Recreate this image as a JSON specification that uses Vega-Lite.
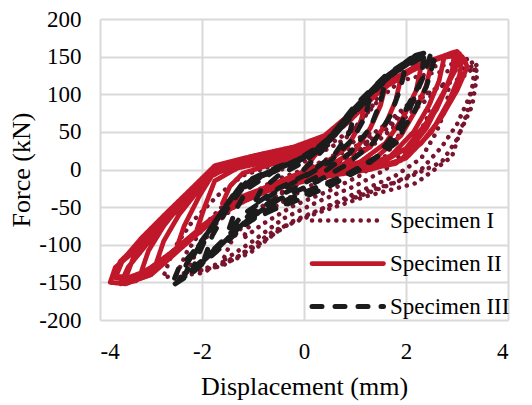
{
  "$schema": "https://vega.github.io/schema/vega-lite/v6.json",
  "autosize": {"type": "none"},
  "width": 408,
  "height": 301,
  "padding": {"left": 100, "top": 19, "right": 24, "bottom": 85},
  "background": "white",
  "config": {
    "font": "Liberation Serif",
    "view": {"stroke": null},
    "axis": {
      "labelFont": "Liberation Serif",
      "labelFontSize": 23,
      "labelColor": "#000000",
      "titleFont": "Liberation Serif",
      "titleFontSize": 26,
      "titleFontWeight": "normal",
      "titleColor": "#000000",
      "grid": true,
      "gridColor": "#d9d9d9",
      "gridWidth": 2,
      "ticks": false,
      "domain": false
    },
    "legend": {
      "labelFont": "Liberation Serif",
      "labelFontSize": 23,
      "labelColor": "#000000"
    }
  },
  "data": {
    "values": [
      {"s":"Specimen I","i":1,"x":0,"y":0},
      {"s":"Specimen I","i":2,"x":0.5,"y":15},
      {"s":"Specimen I","i":3,"x":1.0,"y":38},
      {"s":"Specimen I","i":4,"x":1.3,"y":52},
      {"s":"Specimen I","i":5,"x":1.2,"y":28},
      {"s":"Specimen I","i":6,"x":0.8,"y":2},
      {"s":"Specimen I","i":7,"x":0.3,"y":-15},
      {"s":"Specimen I","i":8,"x":-0.3,"y":-38},
      {"s":"Specimen I","i":9,"x":-0.7,"y":-55},
      {"s":"Specimen I","i":10,"x":-0.5,"y":-35},
      {"s":"Specimen I","i":11,"x":-0.1,"y":-15},
      {"s":"Specimen I","i":12,"x":0.5,"y":5},
      {"s":"Specimen I","i":13,"x":1.1,"y":28},
      {"s":"Specimen I","i":14,"x":1.6,"y":55},
      {"s":"Specimen I","i":15,"x":2.0,"y":80},
      {"s":"Specimen I","i":16,"x":1.9,"y":50},
      {"s":"Specimen I","i":17,"x":1.6,"y":18},
      {"s":"Specimen I","i":18,"x":1.1,"y":-8},
      {"s":"Specimen I","i":19,"x":0.5,"y":-28},
      {"s":"Specimen I","i":20,"x":-0.2,"y":-48},
      {"s":"Specimen I","i":21,"x":-0.8,"y":-72},
      {"s":"Specimen I","i":22,"x":-1.2,"y":-92},
      {"s":"Specimen I","i":23,"x":-1.0,"y":-65},
      {"s":"Specimen I","i":24,"x":-0.6,"y":-38},
      {"s":"Specimen I","i":25,"x":0,"y":-15},
      {"s":"Specimen I","i":26,"x":0.7,"y":8},
      {"s":"Specimen I","i":27,"x":1.4,"y":35},
      {"s":"Specimen I","i":28,"x":2.0,"y":70},
      {"s":"Specimen I","i":29,"x":2.5,"y":98},
      {"s":"Specimen I","i":30,"x":2.4,"y":65},
      {"s":"Specimen I","i":31,"x":2.1,"y":32},
      {"s":"Specimen I","i":32,"x":1.6,"y":0},
      {"s":"Specimen I","i":33,"x":1.0,"y":-22},
      {"s":"Specimen I","i":34,"x":0.3,"y":-42},
      {"s":"Specimen I","i":35,"x":-0.4,"y":-65},
      {"s":"Specimen I","i":36,"x":-1.0,"y":-95},
      {"s":"Specimen I","i":37,"x":-1.6,"y":-122},
      {"s":"Specimen I","i":38,"x":-1.4,"y":-92},
      {"s":"Specimen I","i":39,"x":-1.0,"y":-58},
      {"s":"Specimen I","i":40,"x":-0.4,"y":-28},
      {"s":"Specimen I","i":41,"x":0.3,"y":-5},
      {"s":"Specimen I","i":42,"x":1.0,"y":22},
      {"s":"Specimen I","i":43,"x":1.7,"y":58},
      {"s":"Specimen I","i":44,"x":2.3,"y":95},
      {"s":"Specimen I","i":45,"x":2.85,"y":118},
      {"s":"Specimen I","i":46,"x":2.8,"y":85},
      {"s":"Specimen I","i":47,"x":2.6,"y":50},
      {"s":"Specimen I","i":48,"x":2.3,"y":15},
      {"s":"Specimen I","i":49,"x":1.8,"y":-8},
      {"s":"Specimen I","i":50,"x":1.0,"y":-32},
      {"s":"Specimen I","i":51,"x":0.2,"y":-57},
      {"s":"Specimen I","i":52,"x":-0.6,"y":-82},
      {"s":"Specimen I","i":53,"x":-1.3,"y":-116},
      {"s":"Specimen I","i":54,"x":-2.0,"y":-133},
      {"s":"Specimen I","i":55,"x":-2.5,"y":-140},
      {"s":"Specimen I","i":56,"x":-2.3,"y":-110},
      {"s":"Specimen I","i":57,"x":-1.9,"y":-70},
      {"s":"Specimen I","i":58,"x":-1.4,"y":-35},
      {"s":"Specimen I","i":59,"x":-0.8,"y":-8},
      {"s":"Specimen I","i":60,"x":0,"y":10},
      {"s":"Specimen I","i":61,"x":0.8,"y":40},
      {"s":"Specimen I","i":62,"x":1.3,"y":80},
      {"s":"Specimen I","i":63,"x":1.7,"y":125},
      {"s":"Specimen I","i":64,"x":2.3,"y":135},
      {"s":"Specimen I","i":65,"x":2.9,"y":140},
      {"s":"Specimen I","i":66,"x":3.25,"y":148},
      {"s":"Specimen I","i":67,"x":3.4,"y":128},
      {"s":"Specimen I","i":68,"x":3.3,"y":85},
      {"s":"Specimen I","i":69,"x":3.05,"y":48},
      {"s":"Specimen I","i":70,"x":2.9,"y":17},
      {"s":"Specimen I","i":71,"x":2.2,"y":-18},
      {"s":"Specimen I","i":72,"x":1.2,"y":-36},
      {"s":"Specimen I","i":73,"x":0.25,"y":-58},
      {"s":"Specimen I","i":74,"x":-0.4,"y":-76},
      {"s":"Specimen I","i":75,"x":-1.06,"y":-111},
      {"s":"Specimen I","i":76,"x":-2.04,"y":-138},
      {"s":"Specimen I","i":77,"x":-2.76,"y":-143},
      {"s":"Specimen I","i":78,"x":-2.55,"y":-105},
      {"s":"Specimen I","i":79,"x":-2.2,"y":-70},
      {"s":"Specimen I","i":80,"x":-1.7,"y":-35},
      {"s":"Specimen I","i":81,"x":-1.2,"y":-8},
      {"s":"Specimen I","i":82,"x":-0.5,"y":8},
      {"s":"Specimen I","i":83,"x":0.3,"y":25},
      {"s":"Specimen I","i":84,"x":1.0,"y":55},
      {"s":"Specimen I","i":85,"x":1.5,"y":95},
      {"s":"Specimen I","i":86,"x":1.9,"y":118},
      {"s":"Specimen I","i":87,"x":2.5,"y":128},
      {"s":"Specimen I","i":88,"x":3.0,"y":132},
      {"s":"Specimen I","i":89,"x":3.35,"y":138},
      {"s":"Specimen I","i":90,"x":3.3,"y":110},
      {"s":"Specimen I","i":91,"x":3.2,"y":75},
      {"s":"Specimen I","i":92,"x":3.0,"y":40},
      {"s":"Specimen I","i":93,"x":2.7,"y":10},
      {"s":"Specimen I","i":94,"x":2.0,"y":-12},
      {"s":"Specimen I","i":95,"x":1.3,"y":-28},
      {"s":"Specimen I","i":96,"x":0.5,"y":-48},
      {"s":"Specimen I","i":97,"x":-0.2,"y":-68},
      {"s":"Specimen I","i":98,"x":-0.9,"y":-100},
      {"s":"Specimen I","i":99,"x":-1.6,"y":-128},
      {"s":"Specimen I","i":100,"x":-2.3,"y":-138},
      {"s":"Specimen I","i":101,"x":-2.1,"y":-108},
      {"s":"Specimen I","i":102,"x":-1.7,"y":-70},
      {"s":"Specimen I","i":103,"x":-1.2,"y":-40},
      {"s":"Specimen I","i":104,"x":-0.6,"y":-15},
      {"s":"Specimen I","i":105,"x":0.2,"y":5},
      {"s":"Specimen I","i":106,"x":1.0,"y":30},
      {"s":"Specimen I","i":107,"x":1.6,"y":60},
      {"s":"Specimen I","i":108,"x":2.1,"y":90},
      {"s":"Specimen I","i":109,"x":2.6,"y":108},
      {"s":"Specimen I","i":110,"x":3.1,"y":122},
      {"s":"Specimen I","i":111,"x":3.4,"y":140},
      {"s":"Specimen I","i":112,"x":3.35,"y":118},
      {"s":"Specimen I","i":113,"x":3.2,"y":90},
      {"s":"Specimen I","i":114,"x":3.0,"y":60},
      {"s":"Specimen I","i":115,"x":2.7,"y":30},
      {"s":"Specimen I","i":116,"x":2.3,"y":0},
      {"s":"Specimen I","i":117,"x":1.7,"y":-20},
      {"s":"Specimen I","i":118,"x":0.9,"y":-40},

      {"s":"Specimen II","i":1,"x":0,"y":0},
      {"s":"Specimen II","i":2,"x":0.4,"y":35},
      {"s":"Specimen II","i":3,"x":0.8,"y":62},
      {"s":"Specimen II","i":4,"x":1.2,"y":88},
      {"s":"Specimen II","i":5,"x":1.1,"y":60},
      {"s":"Specimen II","i":6,"x":0.85,"y":30},
      {"s":"Specimen II","i":7,"x":0.4,"y":8},
      {"s":"Specimen II","i":8,"x":-0.2,"y":-8},
      {"s":"Specimen II","i":9,"x":-0.8,"y":-25},
      {"s":"Specimen II","i":10,"x":-1.3,"y":-38},
      {"s":"Specimen II","i":11,"x":-1.6,"y":-45},
      {"s":"Specimen II","i":12,"x":-1.45,"y":-22},
      {"s":"Specimen II","i":13,"x":-1.2,"y":-5},
      {"s":"Specimen II","i":14,"x":-0.6,"y":8},
      {"s":"Specimen II","i":15,"x":0,"y":20},
      {"s":"Specimen II","i":16,"x":0.4,"y":36},
      {"s":"Specimen II","i":17,"x":0.9,"y":65},
      {"s":"Specimen II","i":18,"x":1.3,"y":92},
      {"s":"Specimen II","i":19,"x":1.6,"y":112},
      {"s":"Specimen II","i":20,"x":1.5,"y":85},
      {"s":"Specimen II","i":21,"x":1.3,"y":55},
      {"s":"Specimen II","i":22,"x":1.0,"y":25},
      {"s":"Specimen II","i":23,"x":0.5,"y":5},
      {"s":"Specimen II","i":24,"x":-0.2,"y":-10},
      {"s":"Specimen II","i":25,"x":-0.9,"y":-28},
      {"s":"Specimen II","i":26,"x":-1.5,"y":-50},
      {"s":"Specimen II","i":27,"x":-2.1,"y":-80},
      {"s":"Specimen II","i":28,"x":-1.95,"y":-50},
      {"s":"Specimen II","i":29,"x":-1.75,"y":-15},
      {"s":"Specimen II","i":30,"x":-1.3,"y":2},
      {"s":"Specimen II","i":31,"x":-0.6,"y":12},
      {"s":"Specimen II","i":32,"x":0,"y":24},
      {"s":"Specimen II","i":33,"x":0.4,"y":38},
      {"s":"Specimen II","i":34,"x":0.9,"y":70},
      {"s":"Specimen II","i":35,"x":1.4,"y":102},
      {"s":"Specimen II","i":36,"x":1.9,"y":122},
      {"s":"Specimen II","i":37,"x":1.8,"y":92},
      {"s":"Specimen II","i":38,"x":1.6,"y":60},
      {"s":"Specimen II","i":39,"x":1.3,"y":30},
      {"s":"Specimen II","i":40,"x":0.8,"y":8},
      {"s":"Specimen II","i":41,"x":0.1,"y":-8},
      {"s":"Specimen II","i":42,"x":-0.7,"y":-24},
      {"s":"Specimen II","i":43,"x":-1.4,"y":-48},
      {"s":"Specimen II","i":44,"x":-2.0,"y":-78},
      {"s":"Specimen II","i":45,"x":-2.5,"y":-105},
      {"s":"Specimen II","i":46,"x":-2.35,"y":-75},
      {"s":"Specimen II","i":47,"x":-2.05,"y":-35},
      {"s":"Specimen II","i":48,"x":-1.75,"y":-2},
      {"s":"Specimen II","i":49,"x":-1.1,"y":10},
      {"s":"Specimen II","i":50,"x":-0.3,"y":22},
      {"s":"Specimen II","i":51,"x":0.3,"y":37},
      {"s":"Specimen II","i":52,"x":0.8,"y":62},
      {"s":"Specimen II","i":53,"x":1.4,"y":100},
      {"s":"Specimen II","i":54,"x":1.9,"y":125},
      {"s":"Specimen II","i":55,"x":2.3,"y":138},
      {"s":"Specimen II","i":56,"x":2.2,"y":105},
      {"s":"Specimen II","i":57,"x":1.95,"y":70},
      {"s":"Specimen II","i":58,"x":1.6,"y":35},
      {"s":"Specimen II","i":59,"x":1.1,"y":10},
      {"s":"Specimen II","i":60,"x":0.4,"y":-5},
      {"s":"Specimen II","i":61,"x":-0.4,"y":-20},
      {"s":"Specimen II","i":62,"x":-1.2,"y":-42},
      {"s":"Specimen II","i":63,"x":-1.9,"y":-72},
      {"s":"Specimen II","i":64,"x":-2.4,"y":-102},
      {"s":"Specimen II","i":65,"x":-2.9,"y":-125},
      {"s":"Specimen II","i":66,"x":-2.75,"y":-95},
      {"s":"Specimen II","i":67,"x":-2.45,"y":-60},
      {"s":"Specimen II","i":68,"x":-2.1,"y":-30},
      {"s":"Specimen II","i":69,"x":-1.75,"y":0},
      {"s":"Specimen II","i":70,"x":-1.0,"y":12},
      {"s":"Specimen II","i":71,"x":-0.2,"y":25},
      {"s":"Specimen II","i":72,"x":0.3,"y":39},
      {"s":"Specimen II","i":73,"x":0.8,"y":65},
      {"s":"Specimen II","i":74,"x":1.4,"y":103},
      {"s":"Specimen II","i":75,"x":2.0,"y":130},
      {"s":"Specimen II","i":76,"x":2.5,"y":142},
      {"s":"Specimen II","i":77,"x":2.4,"y":112},
      {"s":"Specimen II","i":78,"x":2.2,"y":80},
      {"s":"Specimen II","i":79,"x":1.9,"y":45},
      {"s":"Specimen II","i":80,"x":1.4,"y":15},
      {"s":"Specimen II","i":81,"x":0.7,"y":-2},
      {"s":"Specimen II","i":82,"x":0,"y":-14},
      {"s":"Specimen II","i":83,"x":-0.8,"y":-28},
      {"s":"Specimen II","i":84,"x":-1.6,"y":-55},
      {"s":"Specimen II","i":85,"x":-2.2,"y":-88},
      {"s":"Specimen II","i":86,"x":-2.7,"y":-118},
      {"s":"Specimen II","i":87,"x":-3.2,"y":-138},
      {"s":"Specimen II","i":88,"x":-3.05,"y":-108},
      {"s":"Specimen II","i":89,"x":-2.75,"y":-75},
      {"s":"Specimen II","i":90,"x":-2.4,"y":-45},
      {"s":"Specimen II","i":91,"x":-2.0,"y":-20},
      {"s":"Specimen II","i":92,"x":-1.7,"y":2},
      {"s":"Specimen II","i":93,"x":-0.9,"y":14},
      {"s":"Specimen II","i":94,"x":0,"y":28},
      {"s":"Specimen II","i":95,"x":0.4,"y":42},
      {"s":"Specimen II","i":96,"x":1.0,"y":75},
      {"s":"Specimen II","i":97,"x":1.6,"y":112},
      {"s":"Specimen II","i":98,"x":2.2,"y":136},
      {"s":"Specimen II","i":99,"x":2.75,"y":150},
      {"s":"Specimen II","i":100,"x":2.65,"y":118},
      {"s":"Specimen II","i":101,"x":2.45,"y":85},
      {"s":"Specimen II","i":102,"x":2.15,"y":50},
      {"s":"Specimen II","i":103,"x":1.7,"y":18},
      {"s":"Specimen II","i":104,"x":1.0,"y":0},
      {"s":"Specimen II","i":105,"x":0.3,"y":-10},
      {"s":"Specimen II","i":106,"x":-0.5,"y":-22},
      {"s":"Specimen II","i":107,"x":-1.3,"y":-45},
      {"s":"Specimen II","i":108,"x":-2.0,"y":-76},
      {"s":"Specimen II","i":109,"x":-2.6,"y":-110},
      {"s":"Specimen II","i":110,"x":-3.1,"y":-135},
      {"s":"Specimen II","i":111,"x":-3.5,"y":-145},
      {"s":"Specimen II","i":112,"x":-3.35,"y":-118},
      {"s":"Specimen II","i":113,"x":-3.0,"y":-85},
      {"s":"Specimen II","i":114,"x":-2.6,"y":-55},
      {"s":"Specimen II","i":115,"x":-2.2,"y":-32},
      {"s":"Specimen II","i":116,"x":-1.8,"y":-2},
      {"s":"Specimen II","i":117,"x":-1.0,"y":12},
      {"s":"Specimen II","i":118,"x":-0.1,"y":27},
      {"s":"Specimen II","i":119,"x":0.4,"y":42},
      {"s":"Specimen II","i":120,"x":1.0,"y":78},
      {"s":"Specimen II","i":121,"x":1.7,"y":115},
      {"s":"Specimen II","i":122,"x":2.4,"y":142},
      {"s":"Specimen II","i":123,"x":2.95,"y":156},
      {"s":"Specimen II","i":124,"x":2.9,"y":128},
      {"s":"Specimen II","i":125,"x":2.7,"y":95},
      {"s":"Specimen II","i":126,"x":2.4,"y":55},
      {"s":"Specimen II","i":127,"x":1.9,"y":12},
      {"s":"Specimen II","i":128,"x":1.3,"y":0},
      {"s":"Specimen II","i":129,"x":0.5,"y":-8},
      {"s":"Specimen II","i":130,"x":-0.5,"y":-22},
      {"s":"Specimen II","i":131,"x":-1.2,"y":-40},
      {"s":"Specimen II","i":132,"x":-2.0,"y":-75},
      {"s":"Specimen II","i":133,"x":-2.5,"y":-110},
      {"s":"Specimen II","i":134,"x":-3.0,"y":-140},
      {"s":"Specimen II","i":135,"x":-3.5,"y":-152},
      {"s":"Specimen II","i":136,"x":-3.8,"y":-150},
      {"s":"Specimen II","i":137,"x":-3.7,"y":-130},
      {"s":"Specimen II","i":138,"x":-3.4,"y":-113},
      {"s":"Specimen II","i":139,"x":-3.0,"y":-88},
      {"s":"Specimen II","i":140,"x":-2.6,"y":-60},
      {"s":"Specimen II","i":141,"x":-2.0,"y":-25},
      {"s":"Specimen II","i":142,"x":-1.7,"y":2},
      {"s":"Specimen II","i":143,"x":-1.0,"y":14},
      {"s":"Specimen II","i":144,"x":0,"y":30},
      {"s":"Specimen II","i":145,"x":0.3,"y":40},
      {"s":"Specimen II","i":146,"x":0.7,"y":56},
      {"s":"Specimen II","i":147,"x":1.2,"y":90},
      {"s":"Specimen II","i":148,"x":1.6,"y":115},
      {"s":"Specimen II","i":149,"x":2.3,"y":140},
      {"s":"Specimen II","i":150,"x":2.9,"y":155},
      {"s":"Specimen II","i":151,"x":3.1,"y":150},
      {"s":"Specimen II","i":152,"x":3.05,"y":125},
      {"s":"Specimen II","i":153,"x":2.85,"y":92},
      {"s":"Specimen II","i":154,"x":2.5,"y":50},
      {"s":"Specimen II","i":155,"x":2.0,"y":15},
      {"s":"Specimen II","i":156,"x":1.4,"y":2},
      {"s":"Specimen II","i":157,"x":0.6,"y":-6},
      {"s":"Specimen II","i":158,"x":-0.3,"y":-18},
      {"s":"Specimen II","i":159,"x":-1.0,"y":-35},
      {"s":"Specimen II","i":160,"x":-1.8,"y":-65},
      {"s":"Specimen II","i":161,"x":-2.4,"y":-102},
      {"s":"Specimen II","i":162,"x":-3.0,"y":-132},
      {"s":"Specimen II","i":163,"x":-3.4,"y":-143},
      {"s":"Specimen II","i":164,"x":-3.75,"y":-142},
      {"s":"Specimen II","i":165,"x":-3.6,"y":-122},
      {"s":"Specimen II","i":166,"x":-3.3,"y":-102},
      {"s":"Specimen II","i":167,"x":-2.9,"y":-78},
      {"s":"Specimen II","i":168,"x":-2.4,"y":-45},
      {"s":"Specimen II","i":169,"x":-1.9,"y":-12},
      {"s":"Specimen II","i":170,"x":-1.4,"y":6},
      {"s":"Specimen II","i":171,"x":-0.5,"y":20},
      {"s":"Specimen II","i":172,"x":0.2,"y":33},
      {"s":"Specimen II","i":173,"x":0.6,"y":50},
      {"s":"Specimen II","i":174,"x":1.2,"y":88},
      {"s":"Specimen II","i":175,"x":1.8,"y":120},
      {"s":"Specimen II","i":176,"x":2.4,"y":143},
      {"s":"Specimen II","i":177,"x":3.0,"y":157},
      {"s":"Specimen II","i":178,"x":3.15,"y":146},
      {"s":"Specimen II","i":179,"x":3.2,"y":136},
      {"s":"Specimen II","i":180,"x":3.0,"y":105},
      {"s":"Specimen II","i":181,"x":2.7,"y":70},
      {"s":"Specimen II","i":182,"x":2.3,"y":35},
      {"s":"Specimen II","i":183,"x":1.8,"y":8},
      {"s":"Specimen II","i":184,"x":1.0,"y":-3},
      {"s":"Specimen II","i":185,"x":0.2,"y":-12},
      {"s":"Specimen II","i":186,"x":-0.7,"y":-28},
      {"s":"Specimen II","i":187,"x":-1.5,"y":-52},
      {"s":"Specimen II","i":188,"x":-2.2,"y":-92},
      {"s":"Specimen II","i":189,"x":-2.8,"y":-128},
      {"s":"Specimen II","i":190,"x":-3.3,"y":-148},
      {"s":"Specimen II","i":191,"x":-3.6,"y":-152},
      {"s":"Specimen II","i":192,"x":-3.45,"y":-130},
      {"s":"Specimen II","i":193,"x":-3.15,"y":-105},
      {"s":"Specimen II","i":194,"x":-2.8,"y":-75},
      {"s":"Specimen II","i":195,"x":-2.3,"y":-42},
      {"s":"Specimen II","i":196,"x":-1.85,"y":-8},
      {"s":"Specimen II","i":197,"x":-1.2,"y":8},
      {"s":"Specimen II","i":198,"x":-0.3,"y":24},
      {"s":"Specimen II","i":199,"x":0.3,"y":38},
      {"s":"Specimen II","i":200,"x":0.9,"y":70},
      {"s":"Specimen II","i":201,"x":1.5,"y":108},
      {"s":"Specimen II","i":202,"x":2.2,"y":138},
      {"s":"Specimen II","i":203,"x":2.8,"y":152},
      {"s":"Specimen II","i":204,"x":3.05,"y":154},
      {"s":"Specimen II","i":205,"x":2.95,"y":130},
      {"s":"Specimen II","i":206,"x":2.7,"y":98},
      {"s":"Specimen II","i":207,"x":2.4,"y":62},
      {"s":"Specimen II","i":208,"x":2.0,"y":28},
      {"s":"Specimen II","i":209,"x":1.5,"y":8},
      {"s":"Specimen II","i":210,"x":0.8,"y":-2},
      {"s":"Specimen II","i":211,"x":0,"y":-14},
      {"s":"Specimen II","i":212,"x":-0.9,"y":-32},
      {"s":"Specimen II","i":213,"x":-1.7,"y":-62},
      {"s":"Specimen II","i":214,"x":-2.3,"y":-98},
      {"s":"Specimen II","i":215,"x":-2.9,"y":-132},
      {"s":"Specimen II","i":216,"x":-3.4,"y":-146},
      {"s":"Specimen II","i":217,"x":-3.7,"y":-144},
      {"s":"Specimen II","i":218,"x":-3.55,"y":-120},
      {"s":"Specimen II","i":219,"x":-3.2,"y":-92},
      {"s":"Specimen II","i":220,"x":-2.7,"y":-58},
      {"s":"Specimen II","i":221,"x":-2.2,"y":-25},
      {"s":"Specimen II","i":222,"x":-1.75,"y":5},
      {"s":"Specimen II","i":223,"x":-1.0,"y":18},
      {"s":"Specimen II","i":224,"x":-0.2,"y":30},
      {"s":"Specimen II","i":225,"x":0.4,"y":45},
      {"s":"Specimen II","i":226,"x":1.1,"y":85},
      {"s":"Specimen II","i":227,"x":1.8,"y":122},
      {"s":"Specimen II","i":228,"x":2.5,"y":146},
      {"s":"Specimen II","i":229,"x":3.0,"y":152},
      {"s":"Specimen II","i":230,"x":2.85,"y":118},
      {"s":"Specimen II","i":231,"x":2.6,"y":80},
      {"s":"Specimen II","i":232,"x":2.2,"y":40},

      {"s":"Specimen III","i":1,"x":0,"y":0},
      {"s":"Specimen III","i":2,"x":0.4,"y":28},
      {"s":"Specimen III","i":3,"x":0.8,"y":62},
      {"s":"Specimen III","i":4,"x":1.0,"y":78},
      {"s":"Specimen III","i":5,"x":0.9,"y":50},
      {"s":"Specimen III","i":6,"x":0.6,"y":20},
      {"s":"Specimen III","i":7,"x":0.1,"y":-5},
      {"s":"Specimen III","i":8,"x":-0.5,"y":-25},
      {"s":"Specimen III","i":9,"x":-1.0,"y":-48},
      {"s":"Specimen III","i":10,"x":-0.85,"y":-28},
      {"s":"Specimen III","i":11,"x":-0.5,"y":-8},
      {"s":"Specimen III","i":12,"x":0,"y":10},
      {"s":"Specimen III","i":13,"x":0.5,"y":38},
      {"s":"Specimen III","i":14,"x":0.9,"y":68},
      {"s":"Specimen III","i":15,"x":1.3,"y":98},
      {"s":"Specimen III","i":16,"x":1.2,"y":70},
      {"s":"Specimen III","i":17,"x":0.95,"y":40},
      {"s":"Specimen III","i":18,"x":0.5,"y":10},
      {"s":"Specimen III","i":19,"x":0,"y":-10},
      {"s":"Specimen III","i":20,"x":-0.6,"y":-32},
      {"s":"Specimen III","i":21,"x":-1.2,"y":-60},
      {"s":"Specimen III","i":22,"x":-1.5,"y":-85},
      {"s":"Specimen III","i":23,"x":-1.35,"y":-55},
      {"s":"Specimen III","i":24,"x":-1.1,"y":-25},
      {"s":"Specimen III","i":25,"x":-0.6,"y":-3},
      {"s":"Specimen III","i":26,"x":0,"y":14},
      {"s":"Specimen III","i":27,"x":0.5,"y":40},
      {"s":"Specimen III","i":28,"x":1.0,"y":80},
      {"s":"Specimen III","i":29,"x":1.6,"y":118},
      {"s":"Specimen III","i":30,"x":1.5,"y":90},
      {"s":"Specimen III","i":31,"x":1.3,"y":55},
      {"s":"Specimen III","i":32,"x":0.9,"y":22},
      {"s":"Specimen III","i":33,"x":0.3,"y":-8},
      {"s":"Specimen III","i":34,"x":-0.4,"y":-32},
      {"s":"Specimen III","i":35,"x":-1.1,"y":-62},
      {"s":"Specimen III","i":36,"x":-1.6,"y":-95},
      {"s":"Specimen III","i":37,"x":-1.95,"y":-118},
      {"s":"Specimen III","i":38,"x":-1.8,"y":-88},
      {"s":"Specimen III","i":39,"x":-1.5,"y":-52},
      {"s":"Specimen III","i":40,"x":-1.15,"y":-20},
      {"s":"Specimen III","i":41,"x":-0.5,"y":2},
      {"s":"Specimen III","i":42,"x":0.1,"y":17},
      {"s":"Specimen III","i":43,"x":0.5,"y":40},
      {"s":"Specimen III","i":44,"x":0.9,"y":75},
      {"s":"Specimen III","i":45,"x":1.5,"y":118},
      {"s":"Specimen III","i":46,"x":2.0,"y":140},
      {"s":"Specimen III","i":47,"x":1.9,"y":110},
      {"s":"Specimen III","i":48,"x":1.7,"y":72},
      {"s":"Specimen III","i":49,"x":1.35,"y":35},
      {"s":"Specimen III","i":50,"x":0.8,"y":5},
      {"s":"Specimen III","i":51,"x":0.2,"y":-18},
      {"s":"Specimen III","i":52,"x":-0.5,"y":-40},
      {"s":"Specimen III","i":53,"x":-1.1,"y":-66},
      {"s":"Specimen III","i":54,"x":-1.7,"y":-105},
      {"s":"Specimen III","i":55,"x":-2.2,"y":-135},
      {"s":"Specimen III","i":56,"x":-2.05,"y":-110},
      {"s":"Specimen III","i":57,"x":-1.85,"y":-80},
      {"s":"Specimen III","i":58,"x":-1.5,"y":-45},
      {"s":"Specimen III","i":59,"x":-1.2,"y":-18},
      {"s":"Specimen III","i":60,"x":-0.5,"y":4},
      {"s":"Specimen III","i":61,"x":0.1,"y":18},
      {"s":"Specimen III","i":62,"x":0.5,"y":42},
      {"s":"Specimen III","i":63,"x":1.0,"y":85},
      {"s":"Specimen III","i":64,"x":1.6,"y":125},
      {"s":"Specimen III","i":65,"x":2.2,"y":152},
      {"s":"Specimen III","i":66,"x":2.5,"y":157},
      {"s":"Specimen III","i":67,"x":2.35,"y":125},
      {"s":"Specimen III","i":68,"x":2.1,"y":85},
      {"s":"Specimen III","i":69,"x":1.8,"y":50},
      {"s":"Specimen III","i":70,"x":1.4,"y":15},
      {"s":"Specimen III","i":71,"x":0.8,"y":-8},
      {"s":"Specimen III","i":72,"x":0.2,"y":-28},
      {"s":"Specimen III","i":73,"x":-0.5,"y":-50},
      {"s":"Specimen III","i":74,"x":-1.1,"y":-70},
      {"s":"Specimen III","i":75,"x":-1.7,"y":-108},
      {"s":"Specimen III","i":76,"x":-2.2,"y":-138},
      {"s":"Specimen III","i":77,"x":-2.6,"y":-155},
      {"s":"Specimen III","i":78,"x":-2.45,"y":-130},
      {"s":"Specimen III","i":79,"x":-2.2,"y":-112},
      {"s":"Specimen III","i":80,"x":-1.9,"y":-85},
      {"s":"Specimen III","i":81,"x":-1.6,"y":-55},
      {"s":"Specimen III","i":82,"x":-1.3,"y":-28},
      {"s":"Specimen III","i":83,"x":-0.8,"y":-8},
      {"s":"Specimen III","i":84,"x":-0.2,"y":10},
      {"s":"Specimen III","i":85,"x":0.4,"y":35},
      {"s":"Specimen III","i":86,"x":0.9,"y":75},
      {"s":"Specimen III","i":87,"x":1.5,"y":118},
      {"s":"Specimen III","i":88,"x":2.1,"y":148},
      {"s":"Specimen III","i":89,"x":2.35,"y":152},
      {"s":"Specimen III","i":90,"x":2.3,"y":118},
      {"s":"Specimen III","i":91,"x":2.0,"y":80},
      {"s":"Specimen III","i":92,"x":1.9,"y":40},
      {"s":"Specimen III","i":93,"x":1.6,"y":25},
      {"s":"Specimen III","i":94,"x":1.1,"y":0},
      {"s":"Specimen III","i":95,"x":0.5,"y":-22},
      {"s":"Specimen III","i":96,"x":-0.1,"y":-40},
      {"s":"Specimen III","i":97,"x":-1.1,"y":-67},
      {"s":"Specimen III","i":98,"x":-1.6,"y":-98},
      {"s":"Specimen III","i":99,"x":-2.0,"y":-125},
      {"s":"Specimen III","i":100,"x":-2.35,"y":-143},
      {"s":"Specimen III","i":101,"x":-2.2,"y":-118},
      {"s":"Specimen III","i":102,"x":-1.95,"y":-90},
      {"s":"Specimen III","i":103,"x":-1.7,"y":-65},
      {"s":"Specimen III","i":104,"x":-1.4,"y":-35},
      {"s":"Specimen III","i":105,"x":-1.0,"y":-12},
      {"s":"Specimen III","i":106,"x":-0.4,"y":5},
      {"s":"Specimen III","i":107,"x":0.2,"y":22},
      {"s":"Specimen III","i":108,"x":0.7,"y":55},
      {"s":"Specimen III","i":109,"x":1.2,"y":95},
      {"s":"Specimen III","i":110,"x":1.8,"y":130},
      {"s":"Specimen III","i":111,"x":2.3,"y":148},
      {"s":"Specimen III","i":112,"x":2.55,"y":145},
      {"s":"Specimen III","i":113,"x":2.4,"y":110},
      {"s":"Specimen III","i":114,"x":2.15,"y":75},
      {"s":"Specimen III","i":115,"x":1.85,"y":45},
      {"s":"Specimen III","i":116,"x":1.5,"y":20},
      {"s":"Specimen III","i":117,"x":0.9,"y":-5},
      {"s":"Specimen III","i":118,"x":0.2,"y":-25},
      {"s":"Specimen III","i":119,"x":-0.6,"y":-48},
      {"s":"Specimen III","i":120,"x":-1.3,"y":-80},
      {"s":"Specimen III","i":121,"x":-1.9,"y":-115},
      {"s":"Specimen III","i":122,"x":-2.45,"y":-148},
      {"s":"Specimen III","i":123,"x":-2.3,"y":-125},
      {"s":"Specimen III","i":124,"x":-2.05,"y":-100},
      {"s":"Specimen III","i":125,"x":-1.75,"y":-72},
      {"s":"Specimen III","i":126,"x":-1.45,"y":-40},
      {"s":"Specimen III","i":127,"x":-1.1,"y":-15},
      {"s":"Specimen III","i":128,"x":-0.5,"y":2},
      {"s":"Specimen III","i":129,"x":0.1,"y":20},
      {"s":"Specimen III","i":130,"x":0.6,"y":48},
      {"s":"Specimen III","i":131,"x":1.1,"y":88},
      {"s":"Specimen III","i":132,"x":1.7,"y":125},
      {"s":"Specimen III","i":133,"x":2.25,"y":150}
    ]
  },
  "mark": {"type": "line", "strokeJoin": "round", "strokeCap": "round", "clip": true},
  "encoding": {
    "x": {
      "field": "x", "type": "quantitative",
      "scale": {"domain": [-4, 4], "nice": false},
      "axis": {"values": [-4, -2, 0, 2, 4], "title": "Displacement (mm)", "labelFont": "Liberation Serif", "labelExpr": "replace(datum.label, '−', '-')", "labelPadding": 20, "titlePadding": 10}
    },
    "y": {
      "field": "y", "type": "quantitative",
      "scale": {"domain": [-200, 200], "nice": false},
      "axis": {"values": [-200, -150, -100, -50, 0, 50, 100, 150, 200], "title": "Force (kN)", "labelFont": "Liberation Serif", "labelExpr": "replace(datum.label, '−', '-')", "labelPadding": 19, "titlePadding": 4}
    },
    "order": {"field": "i", "type": "quantitative"},
    "color": {
      "field": "s", "type": "nominal",
      "scale": {"domain": ["Specimen I", "Specimen II", "Specimen III"], "range": ["#77142e", "#c0182a", "#1c1c1c"]},
      "legend": {
        "title": null,
        "orient": "none",
        "legendX": 259,
        "legendY": 188,
        "padding": 0,
        "symbolType": "M-5.5,0H1",
        "symbolSize": 484,
        "symbolStrokeWidth": 4,
        "rowPadding": 17,
        "labelOffset": 4,
        "encode": {"symbols": {"update": {"strokeCap": {"value": "round"}}}}
      }
    },
    "strokeDash": {
      "field": "s", "type": "nominal",
      "scale": {"domain": ["Specimen I", "Specimen II", "Specimen III"], "range": [[0.1, 8], [1, 0], [10, 13]]},
      "legend": null
    },
    "strokeWidth": {
      "field": "s", "type": "nominal",
      "scale": {"domain": ["Specimen I", "Specimen II", "Specimen III"], "range": [4.5, 5, 4.5]},
      "legend": null
    }
  }
}
